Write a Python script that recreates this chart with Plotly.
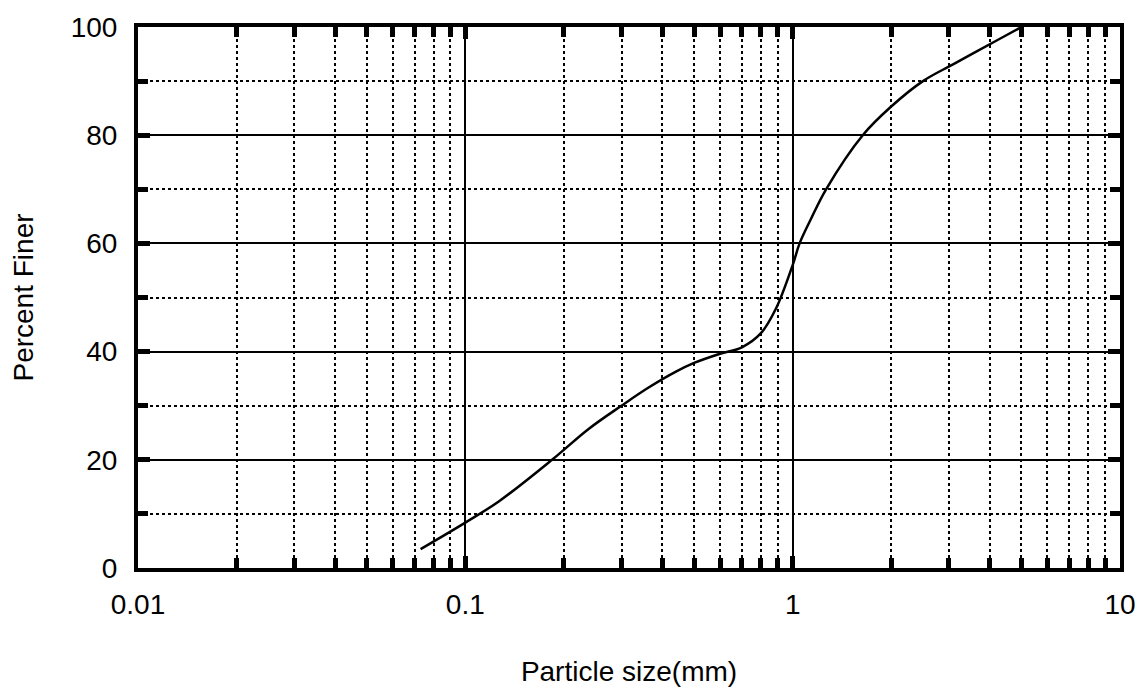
import plotly.graph_objects as go

# particle size distribution
particle_size = [0.073, 0.1, 0.1265, 0.184, 0.238, 0.3, 0.364, 0.44, 0.5, 0.6,
                 0.7, 0.8, 0.89, 1.0, 1.05, 1.137, 1.265, 1.637, 2.0, 2.5,
                 3.09, 4.2, 5.0]
percent_finer = [3.5, 8.4, 12.3, 20, 25.7, 30, 33.4, 36.3, 37.9, 39.6,
                 40.8, 43.4, 48, 56, 60, 64.5, 70, 80, 85.3, 90,
                 93.1, 97.5, 100]

x_ticks = [0.01, 0.1, 1, 10]
x_tick_text = ["0.01", "0.1", "1", "10"]
x_minor = [m * d for d in (0.01, 0.1, 1) for m in range(2, 10)]

FONT = "Liberation Sans, Arial, sans-serif"

fig = go.Figure()

fig.add_trace(
    go.Scatter(
        x=particle_size,
        y=percent_finer,
        mode="lines",
        line=dict(color="black", width=2.5, shape="spline", smoothing=1),
        showlegend=False,
    )
)

# page body adds an 8px offset, so the figure is sized to fit the window
fig.update_layout(
    width=1140,
    height=688,
    margin=dict(l=130, r=28, t=19, b=128, pad=0),
    plot_bgcolor="white",
    paper_bgcolor="white",
    font=dict(family=FONT, size=28, color="black"),
    xaxis=dict(
        type="log",
        range=[-2, 1],
        automargin=False,
        tickvals=x_ticks,
        ticktext=x_tick_text,
        ticks="inside",
        ticklen=12,
        tickwidth=5,
        tickcolor="black",
        ticklabelstandoff=8,
        showgrid=True,
        gridcolor="black",
        gridwidth=2,
        showline=True,
        linecolor="black",
        linewidth=4,
        mirror="ticks",
        zeroline=False,
        minor=dict(
            tickvals=x_minor,
            ticks="inside",
            ticklen=10,
            tickwidth=5,
            tickcolor="black",
            showgrid=True,
            gridcolor="black",
            gridwidth=2,
            griddash="dot",
        ),
        title=dict(text="Particle size(mm)", font=dict(size=28), standoff=44),
    ),
    yaxis=dict(
        range=[0, 100],
        automargin=False,
        dtick=20,
        ticks="inside",
        ticklen=12,
        tickwidth=5,
        tickcolor="black",
        ticklabelstandoff=11,
        showgrid=True,
        gridcolor="black",
        gridwidth=2,
        showline=True,
        linecolor="black",
        linewidth=4,
        mirror="ticks",
        zeroline=False,
        minor=dict(
            dtick=10,
            ticks="inside",
            ticklen=10,
            tickwidth=5,
            tickcolor="black",
            showgrid=True,
            gridcolor="black",
            gridwidth=2,
            griddash="dot",
        ),
        title=dict(text="Percent Finer", font=dict(size=28), standoff=35),
    ),
)

fig.write_html("out.html")
